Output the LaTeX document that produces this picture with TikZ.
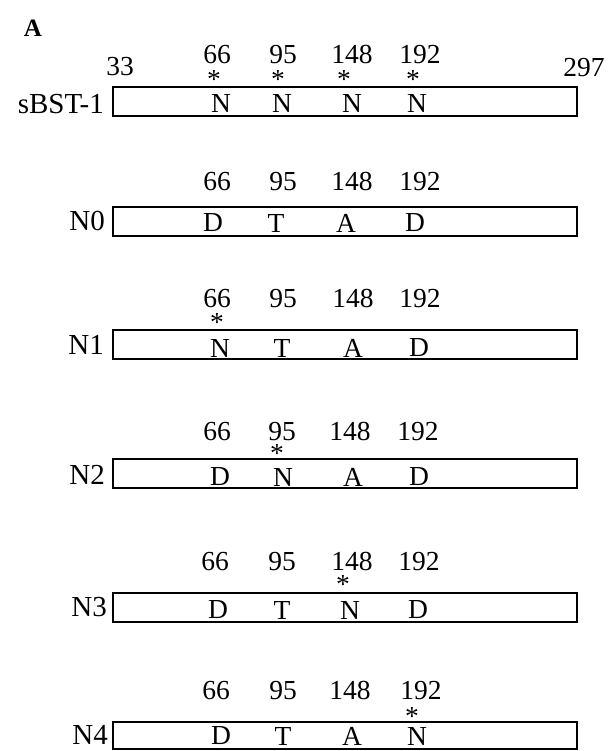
\documentclass[tikz,border=0pt]{standalone}
\usepackage{fontspec}
\setmainfont{Liberation Serif}
\begin{document}
\begin{tikzpicture}[x=1pt,y=-1pt,
  box/.style={draw, line width=1.1pt, inner sep=0pt, outer sep=0pt, anchor=north west, minimum width=464pt, minimum height=29pt},
  txt/.style={font=\fontsize{27.5}{32}\selectfont, inner sep=0pt},
  num/.style={txt, anchor=base},
  lbl/.style={font=\fontsize{29}{34}\selectfont, inner sep=0pt, anchor=east},
  starmark/.style={txt, anchor=base}]
\useasboundingbox (0,0) rectangle (610,751);

\node[font=\bfseries\fontsize{25}{29}\selectfont, inner sep=0pt] (panel) at (33,28) {A};

% ---- sBST-1
\node[box] (b0) at (113,87) {};
\node[lbl] (l0) at (104,104) {sBST-1};
\node[num] (s33) at (120,76) {33};
\node[num] (s297) at (584,77) {297};
\node[num] (n0a) at (217,64) {66};
\node[num] (n0b) at (283,64) {95};
\node[num] (n0c) at (352,64) {148};
\node[num] (n0d) at (420,64) {192};
\node[starmark] (a0a) at (214,89) {*};
\node[starmark] (a0b) at (278,89) {*};
\node[starmark] (a0c) at (344,89) {*};
\node[starmark] (a0d) at (413,89) {*};
\node[txt] (r0a) at (221,103) {N};
\node[txt] (r0b) at (282,103) {N};
\node[txt] (r0c) at (352,103) {N};
\node[txt] (r0d) at (417,103) {N};

% ---- N0
\node[box] (b1) at (113,207) {};
\node[lbl] (l1) at (105,221) {N0};
\node[num] (n1a) at (217,191) {66};
\node[num] (n1b) at (283,191) {95};
\node[num] (n1c) at (352,191) {148};
\node[num] (n1d) at (420,191) {192};
\node[txt] (r1a) at (213,223) {D};
\node[txt] (r1b) at (276,223) {T};
\node[txt] (r1c) at (346,223) {A};
\node[txt] (r1d) at (415,223) {D};

% ---- N1
\node[box] (b2) at (113,330) {};
\node[lbl] (l2) at (104,345) {N1};
\node[num] (n2a) at (217,307) {66};
\node[num] (n2b) at (283,307) {95};
\node[num] (n2c) at (353,307) {148};
\node[num] (n2d) at (420,307) {192};
\node[starmark] (a2a) at (217,331) {*};
\node[txt] (r2a) at (220,348) {N};
\node[txt] (r2b) at (282,348) {T};
\node[txt] (r2c) at (353,348) {A};
\node[txt] (r2d) at (419,348) {D};

% ---- N2
\node[box] (b3) at (113,459) {};
\node[lbl] (l3) at (105,475) {N2};
\node[num] (n3a) at (217,440) {66};
\node[num] (n3b) at (282,440) {95};
\node[num] (n3c) at (350,440) {148};
\node[num] (n3d) at (418,440) {192};
\node[starmark] (a3b) at (277,462) {*};
\node[txt] (r3a) at (220,477) {D};
\node[txt] (r3b) at (283,477) {N};
\node[txt] (r3c) at (353,477) {A};
\node[txt] (r3d) at (419,477) {D};

% ---- N3
\node[box] (b4) at (113,593) {};
\node[lbl] (l4) at (107,607) {N3};
\node[num] (n4a) at (215,570) {66};
\node[num] (n4b) at (282,570) {95};
\node[num] (n4c) at (352,570) {148};
\node[num] (n4d) at (419,570) {192};
\node[starmark] (a4c) at (343,593) {*};
\node[txt] (r4a) at (218,610) {D};
\node[txt] (r4b) at (282,610) {T};
\node[txt] (r4c) at (350,610) {N};
\node[txt] (r4d) at (418,610) {D};

% ---- N4
\node[box, minimum height=27pt] (b5) at (113,722) {};
\node[lbl] (l5) at (108,735) {N4};
\node[num] (n5a) at (216,699) {66};
\node[num] (n5b) at (283,699) {95};
\node[num] (n5c) at (350,699) {148};
\node[num] (n5d) at (421,699) {192};
\node[starmark] (a5d) at (412,725) {*};
\node[txt] (r5a) at (221,736) {D};
\node[txt] (r5b) at (283,736) {T};
\node[txt] (r5c) at (352,736) {A};
\node[txt] (r5d) at (417,736) {N};
\end{tikzpicture}
\end{document}
